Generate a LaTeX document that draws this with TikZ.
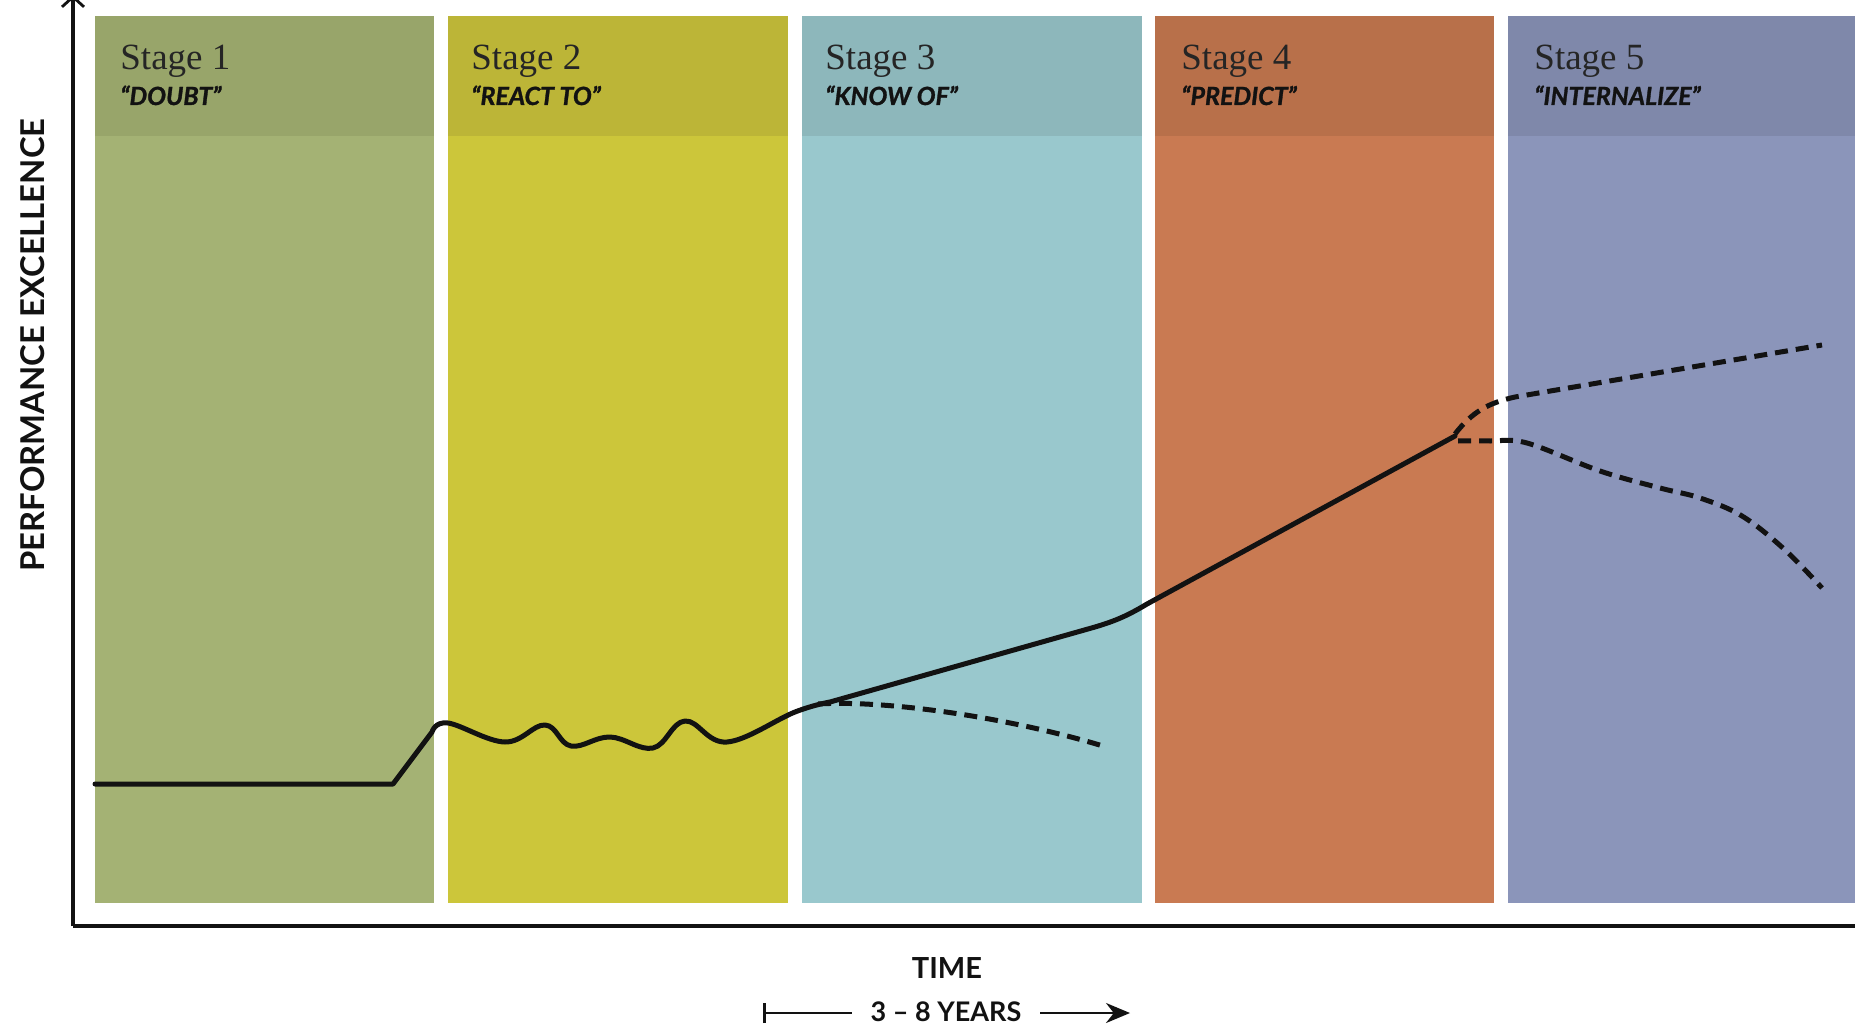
\documentclass[tikz,border=0pt]{standalone}
\usepackage{fontspec}
\setmainfont{Liberation Serif}
\newfontfamily\labfont{Lato}
\newfontfamily\subfont{Lato}[BoldItalicFeatures={FakeBold=1.2}]
\usetikzlibrary{arrows.meta}
\definecolor{bodyA}{HTML}{A4B274}
\definecolor{headA}{HTML}{98A56A}
\definecolor{bodyB}{HTML}{CCC63A}
\definecolor{headB}{HTML}{BCB537}
\definecolor{bodyC}{HTML}{99C8CD}
\definecolor{headC}{HTML}{8DB7BB}
\definecolor{bodyD}{HTML}{C97A52}
\definecolor{headD}{HTML}{B8704A}
\definecolor{bodyE}{HTML}{8B95BA}
\definecolor{headE}{HTML}{7F88AA}
\definecolor{inkc}{HTML}{121212}
\tikzset{
  stagetitle/.style={anchor=base west, inner sep=0pt, font=\fontsize{18.5}{20}\selectfont, text=inkc!92},
  stagesub/.style={anchor=base west, inner sep=0pt, font=\subfont\bfseries\itshape\fontsize{12.5}{14}\selectfont, text=inkc},
  axislab/.style={inner sep=0pt, font=\labfont\bfseries\fontsize{14.5}{16}\selectfont, text=inkc},
  curve/.style={line width=2.5pt, draw=inkc, line cap=round, line join=round},
  dcurve/.style={line width=2.5pt, draw=inkc, dash pattern=on 6.5pt off 4pt},
}
\begin{document}
\begin{tikzpicture}[x=0.5pt,y=-0.5pt]
\useasboundingbox (0,0) rectangle (1855,1026);
\fill[white] (0,0) rectangle (1855,1026);
% stage columns
\foreach \l/\r/\b/\h in {95/434/bodyA/headA,448/788/bodyB/headB,802/1142/bodyC/headC,1155/1494/bodyD/headD,1508/1855/bodyE/headE}{
  \fill[\b] (\l,16) rectangle (\r,903);
  \fill[\h] (\l,16) rectangle (\r,136);
}
% headers
\node[stagetitle] (t1) at (120,70) {Stage 1};
\node[stagesub] (s1) at (120,105) {“DOUBT”};
\node[stagetitle] (t2) at (471,70) {Stage 2};
\node[stagesub] (s2) at (471,105) {“REACT TO”};
\node[stagetitle] (t3) at (825,70) {Stage 3};
\node[stagesub] (s3) at (825,105) {“KNOW OF”};
\node[stagetitle] (t4) at (1181,70) {Stage 4};
\node[stagesub] (s4) at (1181,105) {“PREDICT”};
\node[stagetitle] (t5) at (1534,70) {Stage 5};
\node[stagesub] (s5) at (1534,105) {“INTERNALIZE”};
% axes
\coordinate (origin) at (73,926);
\coordinate (ytop) at (73,-5);
\coordinate (xend) at (1860,926);
\draw[line width=1.6pt, draw=inkc, -{Straight Barb[length=5pt,width=11pt,line width=1.4pt]}] (origin) -- (ytop);
\draw[line width=2pt, draw=inkc] (origin) -- (xend);
\node[axislab, font=\labfont\bfseries\fontsize{16.4}{18}\selectfont, rotate=90] (ylab) at (33,345) {PERFORMANCE EXCELLENCE};
\node[axislab] (xlab) at (947,968) {TIME};
\node[axislab, font=\labfont\bfseries\fontsize{13.5}{15}\selectfont] (yrs) at (946,1012) {3 – 8 YEARS};
\coordinate (ya) at (763,1013);
\coordinate (yb) at (852,1013);
\coordinate (yc) at (1040,1013);
\coordinate (yd) at (1130,1013);
\draw[line width=1.3pt, draw=inkc, {Bar[width=10pt,line width=1.3pt]}-] (ya) -- (yb);
\draw[line width=1.3pt, draw=inkc, -{Stealth[length=12pt,width=10pt]}] (yc) -- (yd);
% main curve
\draw[curve] (95,784) -- (393,784) -- (432,732)
  plot[smooth, tension=0.65] coordinates {(432,732) (448,723) (505,742) (545,725) (571,746) (610,737) (653,748) (685,721) (727,742) (795,712) (830,702)}
  -- (1095,627) .. controls (1115,621) and (1127,616) .. (1147,604) -- (1455,436);
% dashed branches
\draw[dcurve] (818,704) .. controls (880,700) and (1000,715) .. (1103,746);
\draw[dcurve] (1455,434) .. controls (1472,412) and (1488,403) .. (1515,397) -- (1822,345);
\draw[dcurve] plot[smooth, tension=0.6] coordinates {(1458,441) (1490,441) (1527,443) (1600,471) (1660,488) (1700,498) (1742,516) (1784,549) (1822,588)};
\end{tikzpicture}
\end{document}
